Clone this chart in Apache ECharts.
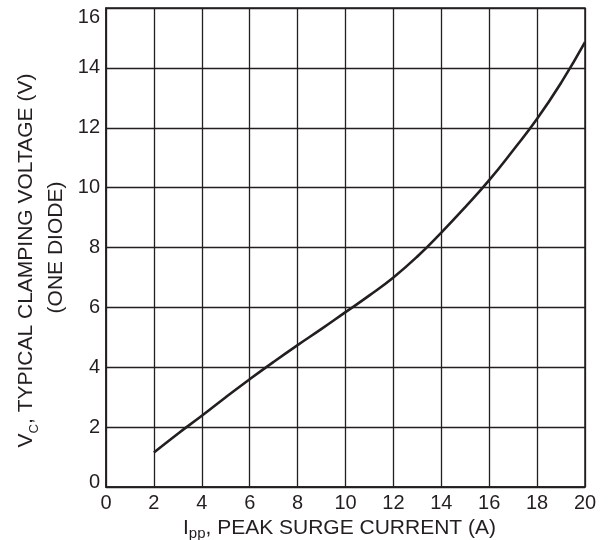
<!DOCTYPE html>
<html>
<head>
<meta charset="utf-8">
<script src="https://cdn.jsdelivr.net/npm/echarts@6/dist/echarts.min.js"></script>
<style>
html,body{margin:0;padding:0;background:#fff;}
#chart{width:616px;height:540px;}
</style>
</head>
<body>
<div id="chart"></div>
<script>
// Peak surge current Ipp (A)
var currentA = [2, 3, 4, 5, 6, 7, 8, 9, 10, 11, 12, 13, 14, 15, 16, 17, 18, 19, 20];
// Typical clamping voltage Vc (V)
var clampV = [1.15, 1.78, 2.38, 3.0, 3.6, 4.18, 4.74, 5.28, 5.84, 6.4, 7.0, 7.7, 8.5, 9.35, 10.25, 11.25, 12.3, 13.5, 14.86];
var xTicks = [0, 2, 4, 6, 8, 10, 12, 14, 16, 18, 20];
var yTicks = [0, 2, 4, 6, 8, 10, 12, 14, 16];

var data = currentA.map(function (x, i) { return [x, clampV[i]]; });
var ink = '#231f20';
var font = 'Liberation Sans, Arial, sans-serif';

var chart = echarts.init(document.getElementById('chart'), null, {renderer: 'canvas'});
chart.setOption({
  backgroundColor: '#fff',
  animation: false,
  grid: {left: 106, top: 8, right: 31, bottom: 53, outerBoundsMode: 'none', containLabel: false,
         show: true, borderColor: ink, borderWidth: 1.5},
  xAxis: {
    type: 'value', min: xTicks[0], max: xTicks[xTicks.length - 1], interval: 2,
    axisLine: {show: true, lineStyle: {color: ink, width: 1.5}},
    axisTick: {show: false},
    splitLine: {show: true, lineStyle: {color: ink, width: 1.3}},
    axisLabel: {color: ink, fontSize: 20, fontFamily: font, margin: 6},
    name: '{t|I}{sub|pp}{e|, PEAK SURGE CURRENT (A)}',
    nameLocation: 'middle', nameGap: 18,
    nameTextStyle: {
      rich: {
        t: {fontSize: 21, fontFamily: font, color: ink, lineHeight: 26},
        e: {fontSize: 21, fontFamily: font, color: ink, lineHeight: 26, padding: [0, 12, 0, 0]},
        sub: {fontSize: 15, fontFamily: font, color: ink, lineHeight: 16, verticalAlign: 'bottom'}
      }
    }
  },
  yAxis: {
    type: 'value', min: yTicks[0], max: yTicks[yTicks.length - 1], interval: 2,
    axisLine: {show: true, lineStyle: {color: ink, width: 1.5}},
    axisTick: {show: false},
    splitLine: {show: true, lineStyle: {color: ink, width: 1.3}},
    axisLabel: {
      color: ink, fontSize: 20, fontFamily: font, margin: 6,
      formatter: function (v) {
        if (v === yTicks[yTicks.length - 1]) return '{top|' + v + '}';
        if (v === yTicks[0]) return '{bot|' + v + '}';
        return String(v);
      },
      rich: {
        top: {fontSize: 20, fontFamily: font, color: ink, padding: [18, 0, 0, 0]},
        bot: {fontSize: 20, fontFamily: font, color: ink, padding: [0, 0, 10, 0]}
      }
    },
    name: '{t|V}{sub|C}{e|, TYPICAL CLAMPING VOLTAGE (V)}\n{t|(ONE DIODE)}',
    nameLocation: 'middle', nameRotate: 90, nameGap: 33,
    nameTextStyle: {
      align: 'center',
      rich: {
        t: {fontSize: 21, fontFamily: font, color: ink, lineHeight: 30},
        e: {fontSize: 21, fontFamily: font, color: ink, lineHeight: 30, padding: [0, 26, 0, 0]},
        sub: {fontSize: 13, fontFamily: font, color: ink, lineHeight: 7, verticalAlign: 'bottom'}
      }
    }
  },
  series: [{
    type: 'line', data: data, smooth: true, showSymbol: false,
    lineStyle: {color: ink, width: 2.6}
  }]
});
</script>
</body>
</html>
